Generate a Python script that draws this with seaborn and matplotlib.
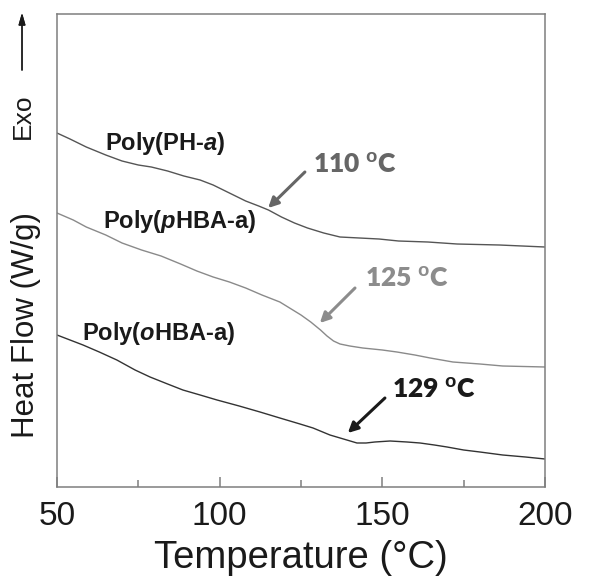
import matplotlib
matplotlib.use("Agg")
import pandas as pd
import seaborn as sns
import matplotlib.pyplot as plt
from matplotlib.ticker import MultipleLocator

# curves (temperature in °C, heat flow in arbitrary units)
ph_temp = [50, 54, 59, 65, 70, 75, 79, 84, 89, 94, 98, 103, 108, 112, 115, 119, 123, 127,
           132, 137, 143, 149, 155, 164, 173, 186, 200]
ph_flow = [354, 348, 340, 332, 326, 322, 320, 316, 311, 307, 302, 294, 286, 281, 277, 270, 264, 259,
           254, 250, 249, 248, 246, 245, 243, 242, 240]

phba_temp = [50, 55, 59, 65, 70, 76, 82, 88, 93, 98, 103, 108, 113, 118.5, 122, 125, 128, 131,
             133, 135, 137, 140, 144, 150, 154.5, 160, 164.7, 171.7, 180, 187, 200]
phba_flow = [274, 267, 260, 252, 244, 237, 231, 223, 216, 210, 205, 199, 192, 185, 178, 172, 165, 157,
             151, 146, 143, 141, 139, 137, 135, 132, 129, 125, 123, 121, 120]

ohba_temp = [50, 54, 58, 63, 68.4, 74, 78.6, 84, 88.7, 94, 99.2, 106, 112.4, 118.5, 124.7, 128.7,
             133.9, 139.1, 142.2, 145, 147.7, 152.4, 157.6, 161.6, 166, 169.9, 175, 180, 187, 194, 200]
ohba_flow = [152, 147, 142, 135, 127, 117, 110, 103, 97, 92, 87, 81, 75, 69, 63, 59,
             52, 47, 44, 44, 45, 46, 45, 44, 42, 40, 37, 35, 32, 30, 28]

x_ticks = [50, 100, 150, 200]

sns.set_style("ticks")
plt.rcParams['font.family'] = ['Liberation Sans', 'DejaVu Sans']
plt.rcParams['mathtext.fontset'] = 'custom'
plt.rcParams['mathtext.rm'] = 'Liberation Sans:bold'
plt.rcParams['mathtext.it'] = 'Liberation Sans:italic:bold'

df = pd.concat([
    pd.DataFrame({'T': ph_temp, 'HF': ph_flow, 'sample': 'PH-a'}),
    pd.DataFrame({'T': phba_temp, 'HF': phba_flow, 'sample': 'pHBA-a'}),
    pd.DataFrame({'T': ohba_temp, 'HF': ohba_flow, 'sample': 'oHBA-a'}),
])
colors = {'PH-a': '#555555', 'pHBA-a': '#8a8a8a', 'oHBA-a': '#333333'}

fig = plt.figure(figsize=(5.9, 5.79), dpi=100)
ax = fig.add_axes([0.0966, 0.1589, 0.8271, 0.8169])

sns.lineplot(data=df, x='T', y='HF', hue='sample', palette=colors, sort=False,
             linewidth=1.0, legend=False, ax=ax, estimator=None)

ax.set_xlim(50, 200)
ax.set_ylim(0, 473)
ax.set_xticks(x_ticks)
ax.xaxis.set_minor_locator(MultipleLocator(25))
ax.set_yticks([])
for s in ax.spines.values():
    s.set_color('#7f7f7f')
    s.set_linewidth(1.1)
ax.tick_params(axis='x', which='major', direction='in', length=7, width=1.1,
               color='#7f7f7f', labelsize=24, pad=10, labelcolor='#1a1a1a')
ax.tick_params(axis='x', which='minor', direction='in', length=5, width=1.1, color='#7f7f7f')
ax.set_xlabel('Temperature (°C)', fontsize=27.5, color='#1a1a1a', labelpad=6)
ax.set_ylabel('')

# curve labels
lab_kw = dict(fontsize=17, fontweight='bold', color='#1a1a1a', va='baseline')
ax.text(64.8, 337, r'Poly(PH-$\mathit{a}$)', **lab_kw)
ax.text(64.1, 259, r'Poly($\mathit{p}$HBA-a)', **lab_kw)
ax.text(57.7, 147, r'Poly($\mathit{o}$HBA-a)', **lab_kw)

# glass transition annotations
tg_labels = ['110', '125', '129']
tg_text_pos = [(128.7, 314), (144.7, 200), (153.0, 89)]
tg_tail = [(126.2, 315), (141.6, 199), (150.8, 89)]
tg_head = [(114.9, 279), (130.8, 164), (139.4, 54)]
tg_colors = ['#666666', '#8c8c8c', '#1a1a1a']
for lab, tp, tail, head, c in zip(tg_labels, tg_text_pos, tg_tail, tg_head, tg_colors):
    ax.text(tp[0], tp[1], lab + r' $^{\mathrm{o}}$C', fontsize=19, fontweight='heavy',
            family=['Lato', 'DejaVu Sans'], color=c, va='baseline')
    ax.annotate('', xy=head, xytext=tail,
                arrowprops=dict(arrowstyle='-|>,head_length=0.6,head_width=0.3',
                                color=c, lw=2.2, shrinkA=0, shrinkB=0))

# y axis label with exotherm arrow
fig.text(0.044, 0.439, 'Heat Flow (W/g)', rotation=90, ha='center', va='center',
         fontsize=22.5, color='#1a1a1a')
fig.text(0.039, 0.800, 'Exo', rotation=90, ha='center', va='center',
         fontsize=19, color='#1a1a1a')
fig.add_artist(plt.annotate('', xy=(0.0373, 0.978), xytext=(0.0373, 0.879),
                            xycoords='figure fraction', textcoords='figure fraction',
                            arrowprops=dict(arrowstyle='-|>,head_length=0.7,head_width=0.2',
                                            color='#1a1a1a', lw=1.0, shrinkA=0, shrinkB=0)))

fig.savefig('out.png', dpi=100)
